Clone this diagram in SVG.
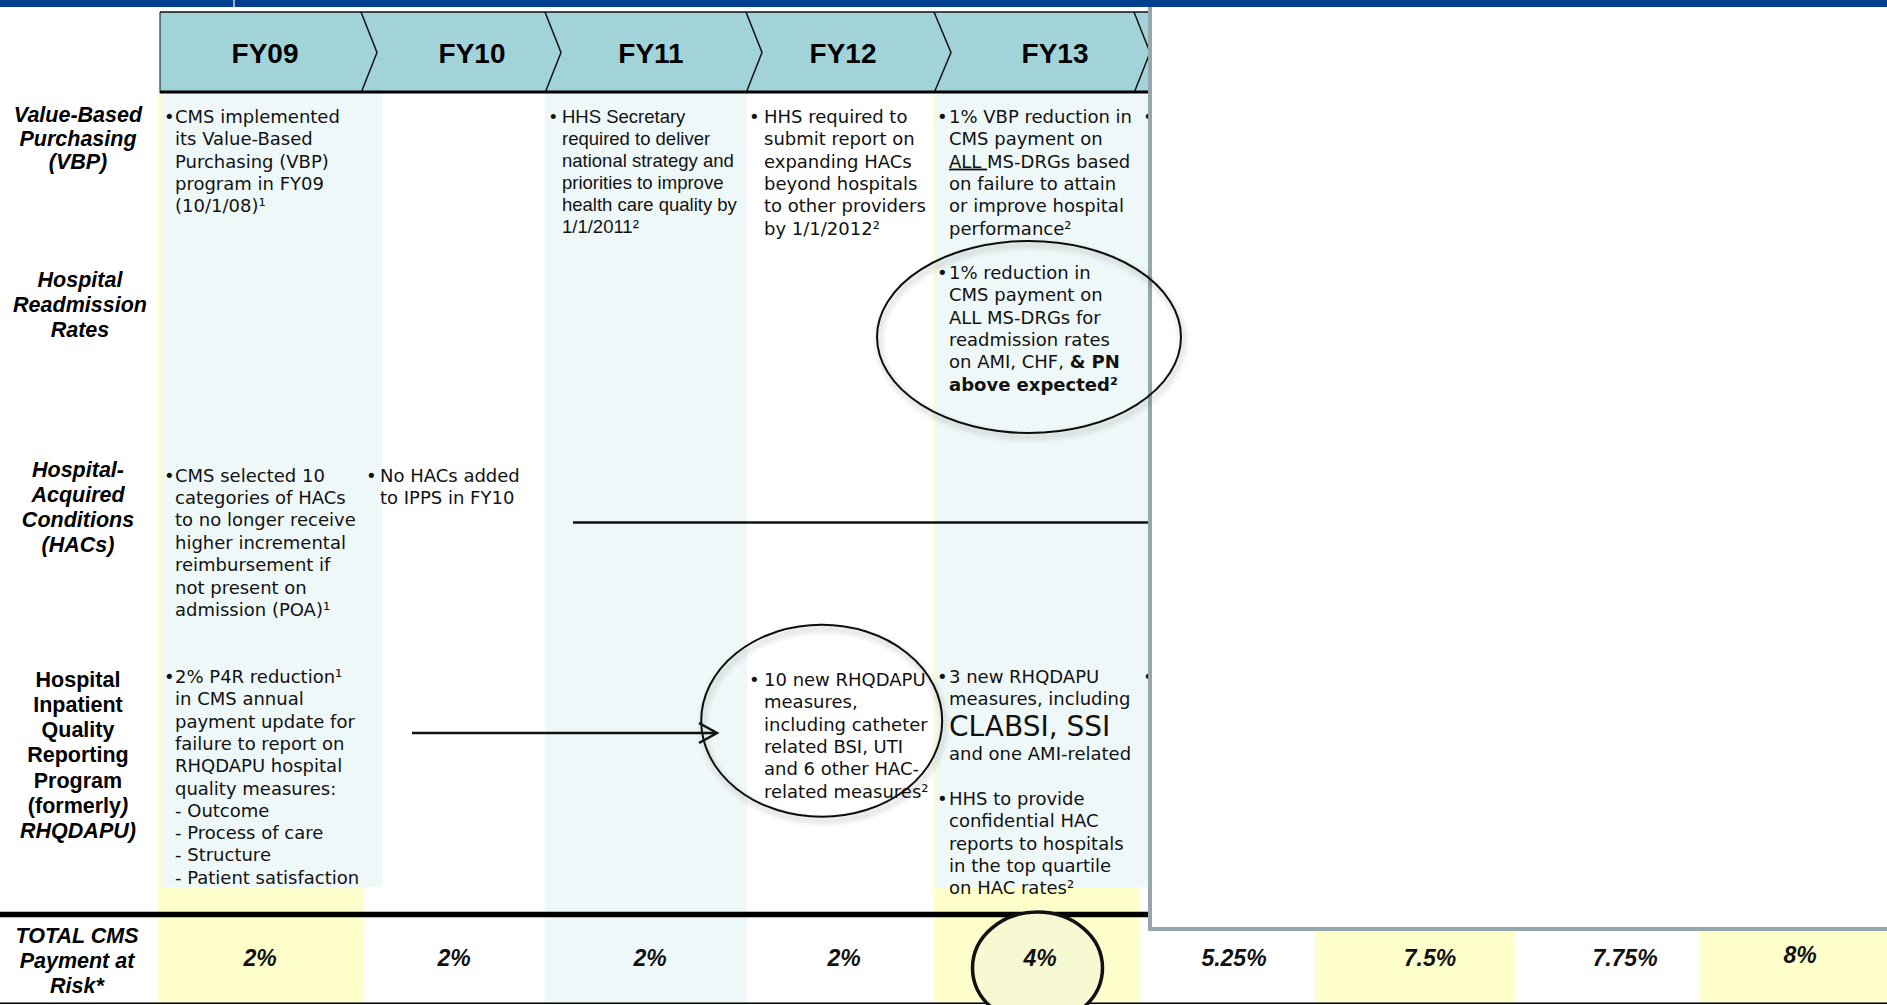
<svg xmlns="http://www.w3.org/2000/svg" width="1887" height="1005" viewBox="0 0 1887 1005">
<style>
.lbl{font-family:"Liberation Sans",Arial,sans-serif;font-size:21.5px;font-weight:bold;font-style:italic;fill:#000;text-anchor:middle}
.lbln{font-style:normal}
.hdr{font-family:"Liberation Sans",Arial,sans-serif;font-size:28px;font-weight:bold;fill:#000;text-anchor:middle}
.v{font-family:"DejaVu Sans",Verdana,sans-serif;font-size:18px;fill:#111}
.big{font-size:28px}
.a{font-family:"Liberation Sans",Arial,sans-serif;font-size:18.5px;fill:#111}
.pct{font-family:"Liberation Sans",Arial,sans-serif;font-size:23px;font-weight:bold;font-style:italic;fill:#111;text-anchor:middle}
.teal{fill:#EFF8F8}
.yel{fill:#FFFFCC}
.sep{fill:none;stroke:#111;stroke-width:1.5}
.ring{fill:none;stroke:#111;stroke-width:2;filter:url(#sh)}
.conn{stroke:#111;stroke-width:2.5;fill:none}
</style>
<defs>
<filter id="sh" x="-20%" y="-20%" width="140%" height="140%">
<feGaussianBlur in="SourceAlpha" stdDeviation="3"/>
<feOffset dx="2" dy="4" result="b"/>
<feComponentTransfer><feFuncA type="linear" slope="0.35"/></feComponentTransfer>
<feMerge><feMergeNode/><feMergeNode in="SourceGraphic"/></feMerge>
</filter>
</defs>
<rect x="0" y="0" width="1887" height="1005" fill="#fff"/>

<g id="backgrounds">
<rect class="yel" x="158" y="93" width="206" height="910"/>
<rect class="teal" x="161" y="93" width="221" height="794"/>
<rect class="teal" x="545" y="93" width="202" height="910"/>
<rect class="yel" x="933" y="93" width="207" height="910"/>
<rect class="teal" x="935" y="93" width="214" height="794"/>
<rect class="yel" x="1315" y="887" width="200" height="116"/>
<rect class="yel" x="1700" y="887" width="187" height="116"/>
</g>

<g id="header">
<rect x="160" y="12" width="989" height="81" fill="#A1D3D9"/>
<line x1="160" y1="12" x2="1149" y2="12" stroke="#111" stroke-width="1.5"/>
<line x1="160" y1="12" x2="160" y2="93" stroke="#111" stroke-width="1"/>
<polyline class="sep" points="361,12 377,52.5 361,93"/>
<polyline class="sep" points="545,12 561,52.5 545,93"/>
<polyline class="sep" points="746,12 762,52.5 746,93"/>
<polyline class="sep" points="934,12 951,52.5 934,93"/>
<polyline class="sep" points="1134,12 1150,52.5 1134,93"/>
<line x1="160" y1="92" x2="1149" y2="92" stroke="#000" stroke-width="3"/>
<g id="hdr-FY09"><text class="hdr" x="265" y="63">FY09</text></g>
<g id="hdr-FY10"><text class="hdr" x="472" y="63">FY10</text></g>
<g id="hdr-FY11"><text class="hdr" x="651" y="63">FY11</text></g>
<g id="hdr-FY12"><text class="hdr" x="843" y="63">FY12</text></g>
<g id="hdr-FY13"><text class="hdr" x="1055" y="63">FY13</text></g>
</g>

<g id="row-labels">
<g id="lbl-vbp"><text class="lbl" x="78" y="122">Value-Based</text><text class="lbl" x="78" y="145.5">Purchasing</text><text class="lbl" x="78" y="169">(VBP)</text></g>
<g id="lbl-readm"><text class="lbl" x="80" y="286.5">Hospital</text><text class="lbl" x="80" y="311.5">Readmission</text><text class="lbl" x="80" y="336.5">Rates</text></g>
<g id="lbl-hac"><text class="lbl" x="78" y="477">Hospital-</text><text class="lbl" x="78" y="502">Acquired</text><text class="lbl" x="78" y="527">Conditions</text><text class="lbl" x="78" y="552">(HACs)</text></g>
<g id="lbl-hiqr"><text class="lbl lbln" x="78" y="686.5">Hospital</text><text class="lbl lbln" x="78" y="711.8">Inpatient</text><text class="lbl lbln" x="78" y="737.1">Quality</text><text class="lbl lbln" x="78" y="762.4">Reporting</text><text class="lbl lbln" x="78" y="787.7">Program</text><text class="lbl lbln" x="78" y="813">(formerly<tspan font-style="italic">)</tspan></text><text class="lbl" x="78" y="838.3">RHQDAPU)</text></g>
<g id="lbl-total"><text class="lbl" x="77" y="943">TOTAL CMS</text><text class="lbl" x="77" y="968">Payment at</text><text class="lbl" x="77" y="993">Risk*</text></g>
</g>

<g id="cell-fy09-vbp">
<text class="v" x="164" y="123">•</text>
<text class="v" x="175" y="123">CMS implemented</text>
<text class="v" x="175" y="145.3">its Value-Based</text>
<text class="v" x="175" y="167.6">Purchasing (VBP)</text>
<text class="v" x="175" y="189.9">program in FY09</text>
<text class="v" x="175" y="212.2">(10/1/08)¹</text>
</g>
<g id="cell-fy11-vbp">
<text class="a" x="550" y="123.3">•</text>
<text class="a" x="562" y="123.3">HHS Secretary</text>
<text class="a" x="562" y="145.3">required to deliver</text>
<text class="a" x="562" y="167.3">national strategy and</text>
<text class="a" x="562" y="189.3">priorities to improve</text>
<text class="a" x="562" y="211.3">health care quality by</text>
<text class="a" x="562" y="233.3">1/1/2011²</text>
</g>
<g id="cell-fy12-vbp">
<text class="v" x="749" y="123">•</text>
<text class="v" x="764" y="123">HHS required to</text>
<text class="v" x="764" y="145.3">submit report on</text>
<text class="v" x="764" y="167.6">expanding HACs</text>
<text class="v" x="764" y="189.9">beyond hospitals</text>
<text class="v" x="764" y="212.2">to other providers</text>
<text class="v" x="764" y="234.5">by 1/1/2012²</text>
</g>
<g id="cell-fy13-vbp">
<text class="v" x="937" y="123">•</text>
<text class="v" x="949" y="123">1% VBP reduction in</text>
<text class="v" x="1143" y="123">•</text>
<text class="v" x="949" y="145.3">CMS payment on</text>
<text class="v" x="949" y="167.6"><tspan text-decoration="underline">ALL </tspan>MS-DRGs based</text>
<text class="v" x="949" y="189.9">on failure to attain</text>
<text class="v" x="949" y="212.2">or improve hospital</text>
<text class="v" x="949" y="234.5">performance²</text>
</g>
<g id="cell-fy13-readm">
<text class="v" x="937" y="279">•</text>
<text class="v" x="949" y="279">1% reduction in</text>
<text class="v" x="949" y="301.3">CMS payment on</text>
<text class="v" x="949" y="323.6">ALL MS-DRGs for</text>
<text class="v" x="949" y="345.9">readmission rates</text>
<text class="v" x="949" y="368.2">on AMI, CHF, <tspan font-weight="bold">&amp; PN</tspan></text>
<text class="v" x="949" y="390.5" font-weight="bold">above expected²</text>
</g>
<g id="cell-fy09-hac">
<text class="v" x="164" y="481.5">•</text>
<text class="v" x="175" y="481.5">CMS selected 10</text>
<text class="v" x="175" y="503.9">categories of HACs</text>
<text class="v" x="175" y="526.3">to no longer receive</text>
<text class="v" x="175" y="548.7">higher incremental</text>
<text class="v" x="175" y="571.1">reimbursement if</text>
<text class="v" x="175" y="593.5">not present on</text>
<text class="v" x="175" y="615.9">admission (POA)¹</text>
</g>
<g id="cell-fy10-hac">
<text class="v" x="366" y="481.5">•</text>
<text class="v" x="380" y="481.5">No HACs added</text>
<text class="v" x="380" y="503.9">to IPPS in FY10</text>
</g>
<g id="cell-fy09-hiqr">
<text class="v" x="164" y="683">•</text>
<text class="v" x="175" y="683">2% P4R reduction¹</text>
<text class="v" x="175" y="705.3">in CMS annual</text>
<text class="v" x="175" y="727.6">payment update for</text>
<text class="v" x="175" y="749.9">failure to report on</text>
<text class="v" x="175" y="772.2">RHQDAPU hospital</text>
<text class="v" x="175" y="794.5">quality measures:</text>
<text class="v" x="175" y="816.8">- Outcome</text>
<text class="v" x="175" y="839.1">- Process of care</text>
<text class="v" x="175" y="861.4">- Structure</text>
<text class="v" x="175" y="883.7">- Patient satisfaction</text>
</g>
<g id="cell-fy12-hiqr">
<text class="v" x="749" y="686">•</text>
<text class="v" x="764" y="686">10 new RHQDAPU</text>
<text class="v" x="764" y="708.3">measures,</text>
<text class="v" x="764" y="730.6">including catheter</text>
<text class="v" x="764" y="752.9">related BSI, UTI</text>
<text class="v" x="764" y="775.2">and 6 other HAC-</text>
<text class="v" x="764" y="797.5">related measures²</text>
</g>
<g id="cell-fy13-hiqr">
<text class="v" x="937" y="683">•</text>
<text class="v" x="949" y="683">3 new RHQDAPU</text>
<text class="v" x="1143" y="683">•</text>
<text class="v" x="949" y="705.3">measures, including</text>
<text class="v big" x="949" y="736">CLABSI, SSI</text>
<text class="v" x="949" y="760">and one AMI-related</text>
<text class="v" x="937" y="805">•</text>
<text class="v" x="949" y="805">HHS to provide</text>
<text class="v" x="949" y="827.3">confidential HAC</text>
<text class="v" x="949" y="849.6">reports to hospitals</text>
<text class="v" x="949" y="871.9">in the top quartile</text>
<text class="v" x="949" y="894.2">on HAC rates²</text>
</g>

<g id="connectors">
<line class="conn" x1="573" y1="522.5" x2="1149" y2="522.5"/>
<line class="conn" x1="412" y1="733" x2="716" y2="733"/>
<polyline class="conn" points="699,723 717,733 699,743"/>
</g>

<line x1="0" y1="914.5" x2="1149" y2="914.5" stroke="#000" stroke-width="5.5"/>
<line x1="0" y1="1003.3" x2="1887" y2="1003.3" stroke="#000" stroke-width="1.5"/>

<g id="overlay">
<rect x="1150" y="7" width="737" height="922" fill="#fff"/>
<path d="M1150,7 V929 H1887" fill="none" stroke="#93A7AC" stroke-width="4"/>
</g>

<g id="top-bar">
<rect x="0" y="0" width="1887" height="7" fill="#00408F"/>
<rect x="233" y="0" width="2" height="7" fill="#9DB3CF"/>
</g>

<g id="highlights">
<ellipse class="ring" cx="1029" cy="337" rx="152" ry="96"/>
<ellipse class="ring" cx="821.7" cy="720.8" rx="120.5" ry="96"/>
<g id="total-fy13">
<ellipse cx="1037.5" cy="968" rx="65" ry="56" fill="#F7F9D3" stroke="#111" stroke-width="3.5"/>
</g>
</g>

<g id="totals">
<text class="pct" x="260" y="966">2%</text>
<text class="pct" x="454" y="966">2%</text>
<text class="pct" x="650" y="966">2%</text>
<text class="pct" x="844" y="966">2%</text>
<text class="pct" x="1040" y="966" fill="#333">4%</text>
<text class="pct" x="1234" y="966">5.25%</text>
<text class="pct" x="1430" y="966">7.5%</text>
<text class="pct" x="1625" y="966">7.75%</text>
<text class="pct" x="1800" y="963">8%</text>
</g>
</svg>
